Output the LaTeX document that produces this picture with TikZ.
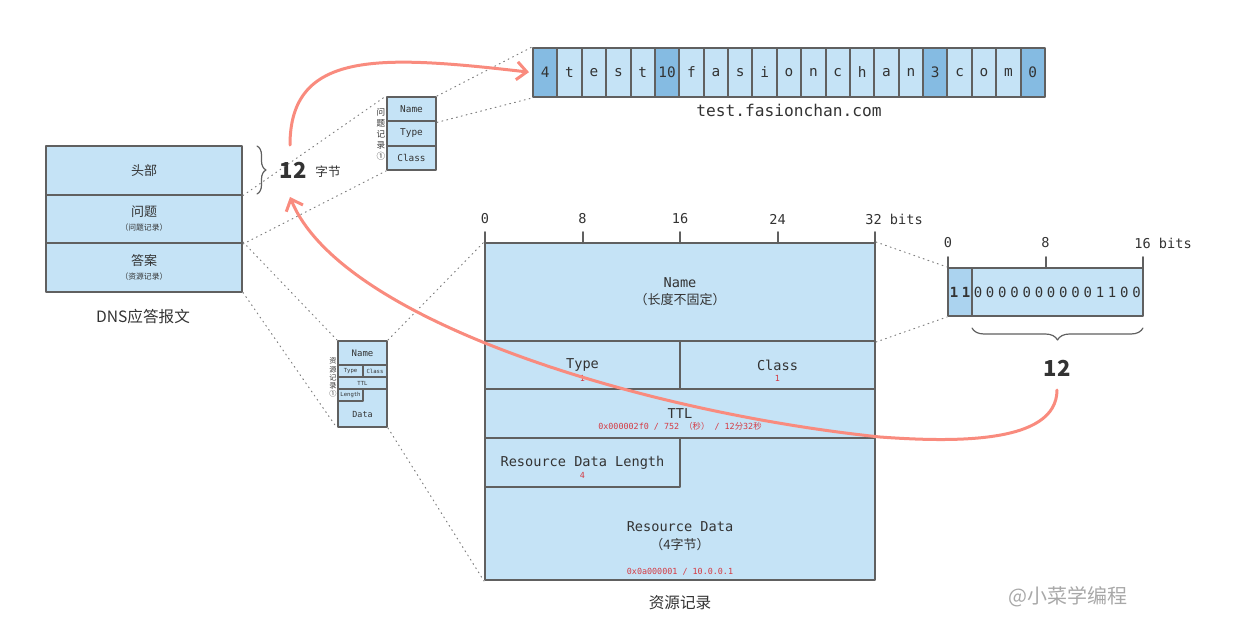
\documentclass[tikz,border=0pt]{standalone}
\usepackage{fontspec}
\setmainfont{Noto Sans CJK SC}
\setmonofont{DejaVu Sans Mono}
\usetikzlibrary{positioning,arrows.meta,decorations.pathreplacing}

\definecolor{cellblue}{HTML}{C5E3F6}
\definecolor{celldark}{HTML}{85BBE2}
\definecolor{cellmid}{HTML}{ABD3EF}
\definecolor{boxgray}{HTML}{606060}
\definecolor{inkgray}{HTML}{333333}
\definecolor{valred}{HTML}{D43A43}
\definecolor{salmon}{HTML}{F98B7E}
\definecolor{markgray}{HTML}{A8A8A8}

\newcommand{\fsz}[2]{\fontsize{#1}{#2}\selectfont}

\tikzset{
  field/.style={draw=boxgray, line width=1pt, fill=cellblue, inner sep=0pt, text=inkgray},
  guide/.style={draw=gray, dotted, line width=0.5pt},
  scaletick/.style={draw=boxgray, line width=1pt},
  bitlabel/.style={inner sep=0pt, text=inkgray, font=\ttfamily\fsz{6.8}{8}},
  redval/.style={inner sep=0pt, text=valred, font=\ttfamily\fsz{4.2}{5}},
  jump/.style={draw=salmon, line width=1.5pt, -{Straight Barb[length=5pt,width=9pt]}},
  bracket/.style={draw=boxgray, line width=0.6pt, decorate},
}

\begin{document}
\begin{tikzpicture}[x=0.5pt, y=-0.5pt, line cap=round, line join=round]
  \useasboundingbox (0,0) rectangle (1260,638);

  % DNS message
  \node[field, minimum width=98pt, minimum height=24.25pt, font=\fsz{6.5}{7}] (head) at (144,170.25) {头部};
  \node[field, minimum width=98pt, minimum height=24.25pt, font=\fsz{6.5}{7}, align=center] (quest) at (144,218.75) {问题\\{\fsz{3.9}{7}（问题记录）}};
  \node[field, minimum width=98pt, minimum height=24.25pt, font=\fsz{6.5}{7}, align=center] (answer) at (144,267.25) {答案\\{\fsz{3.9}{7}（资源记录）}};
  \node[inner sep=0pt, text=inkgray, font=\fsz{7.8}{9}] (dnsmsg) at (143,317) {DNS应答报文};

  % header size
  \draw[bracket, decoration={brace, amplitude=4.5pt}] (257,146) -- (257,194);
  \node[inner sep=0pt, text=inkgray, font=\bfseries\fsz{11}{12}] (bytes12) at (293,170) {12};
  \node[inner sep=0pt, text=inkgray, font=\fsz{6.3}{7}] (bytesunit) at (328,172) {字节};

  % question record
  \node[field, minimum width=24.5pt, minimum height=12.17pt, font=\ttfamily\fsz{4.7}{5}] (qname) at (411.5,109.2) {Name};
  \node[field, minimum width=24.5pt, minimum height=12.17pt, font=\ttfamily\fsz{4.7}{5}] (qtype) at (411.5,133.5) {Type};
  \node[field, minimum width=24.5pt, minimum height=12.17pt, font=\ttfamily\fsz{4.7}{5}] (qclass) at (411.5,157.8) {Class};
  \foreach \ch [count=\k] in {问,题,记,录,①}
    \node[inner sep=0pt, text=inkgray, font=\fsz{4.3}{5}] (qtag\k) at (381,101+11*\k) {\ch};

  % domain name
  \foreach \ch/\tone [count=\i from 0] in {4/celldark,t/cellblue,e/cellblue,s/cellblue,t/cellblue,10/celldark,f/cellblue,a/cellblue,s/cellblue,i/cellblue,o/cellblue,n/cellblue,c/cellblue,h/cellblue,a/cellblue,n/cellblue,3/celldark,c/cellblue,o/cellblue,m/cellblue,0/celldark}
    \node[field, fill=\tone, minimum width=12.19pt, minimum height=24.5pt, font=\ttfamily\fsz{7.2}{8}] (s\i) at (545.19+24.38*\i,72.5) {\ch};
  \node[inner sep=0pt, text=inkgray, font=\ttfamily\fsz{8.1}{9}] (fqdn) at (789,110) {test.fasionchan.com};

  % resource record (small)
  \node[field, minimum width=24.5pt, minimum height=12pt, font=\ttfamily\fsz{4.5}{5}] (rname) at (362.5,353) {Name};
  \node[field, minimum width=24.5pt, minimum height=6pt, font=\ttfamily\fsz{2.8}{3}] (rttl) at (362.5,383) {TTL};
  \node[field, minimum width=12.5pt, minimum height=6pt, font=\ttfamily\fsz{2.8}{3}] (rtype) at (350.5,371) {Type};
  \node[field, minimum width=12pt, minimum height=6pt, font=\ttfamily\fsz{2.8}{3}] (rclass) at (375,371) {Class};
  \node[field, minimum width=24.5pt, minimum height=19pt] (rdata) at (362.5,408) {};
  \node[field, minimum width=12.5pt, minimum height=6pt, font=\ttfamily\fsz{2.8}{3}] (rlen) at (350.5,395) {Length};
  \node[inner sep=0pt, text=inkgray, font=\ttfamily\fsz{4.2}{5}] (rdtext) at (362.5,414) {Data};
  \foreach \ch [count=\k] in {资,源,记,录,①}
    \node[inner sep=0pt, text=inkgray, font=\fsz{3.6}{4}] (rtag\k) at (333,352.7+8.3*\k) {\ch};

  % resource record (large)
  \node[field, minimum width=195pt, minimum height=49pt, font=\ttfamily\fsz{6.8}{8.5}, align=center] (mname) at (680,292) {Name\\{\rmfamily\fsz{6.5}{8.5}（长度不固定）}};
  \node[field, minimum width=97.5pt, minimum height=24pt, font=\ttfamily\fsz{6.8}{8}] (mtype) at (582.5,365) {Type};
  \node[field, minimum width=97.5pt, minimum height=24pt, font=\ttfamily\fsz{6.8}{8}] (mclass) at (777.5,365) {Class};
  \node[field, minimum width=195pt, minimum height=24.5pt, font=\ttfamily\fsz{6.8}{8}] (mttl) at (680,413.5) {TTL};
  \node[field, minimum width=195pt, minimum height=71pt] (mdata) at (680,509) {};
  \node[field, minimum width=97.5pt, minimum height=24.5pt, font=\ttfamily\fsz{6.8}{8}] (mlen) at (582.5,462.5) {Resource Data Length};
  \node[redval] (typeval) at (582.5,378) {1};
  \node[redval] (classval) at (777.5,378) {1};
  \node[redval] (ttlval) at (680,426) {0x000002f0 / 752 {\rmfamily（秒）} / 12{\rmfamily 分}32{\rmfamily 秒}};
  \node[redval] (lenval) at (582.5,475) {4};
  \node[inner sep=0pt, text=inkgray, font=\ttfamily\fsz{6.8}{9}, align=center] (mdtext) at (680,536) {Resource Data\\{\rmfamily\fsz{6.5}{9}（4字节）}};
  \node[redval] (dataval) at (680,572) {0x0a000001 / 10.0.0.1};
  \node[inner sep=0pt, text=inkgray, font=\fsz{7.8}{9}] (rrcaption) at (680,603) {资源记录};

  % bit scale
  \foreach \x/\bit in {485/0, 582.5/8, 680/16, 777.5/24} {
    \draw[scaletick] (\x,232) -- (\x,243);
    \node[bitlabel] (bit\bit) at (\x,219) {\bit};
  }
  \draw[scaletick] (875,232) -- (875,243);
  \node[bitlabel, anchor=west] (bit32) at (865,219) {32 bits};

  % name pointer
  \node[field, fill=cellmid, minimum width=12pt, minimum height=24pt] (ptrflag) at (960,292) {};
  \node[field, minimum width=85.5pt, minimum height=24pt] (ptroff) at (1057.5,292) {};
  \foreach \x/\bit in {948/0, 1045.5/8, 1143/16}
    \draw[scaletick] (\x,257) -- (\x,268);
  \node[bitlabel] (pbit0) at (948,243) {0};
  \node[bitlabel] (pbit8) at (1045.5,243) {8};
  \node[bitlabel, anchor=west] (pbit16) at (1134,243) {16 bits};
  \node[inner sep=0pt, text=inkgray, font=\ttfamily\bfseries\fsz{7}{8}] (flag1) at (954,292) {1};
  \node[inner sep=0pt, text=inkgray, font=\ttfamily\bfseries\fsz{7}{8}] (flag2) at (966,292) {1};
  \foreach \d [count=\i from 0] in {0,0,0,0,0,0,0,0,0,0,1,1,0,0}
    \node[inner sep=0pt, text=inkgray, font=\ttfamily\fsz{7}{8}] (d\i) at (978+12.2*\i,292) {\d};
  \draw[bracket, decoration={brace, amplitude=6pt}] (1143,328) -- (972,328);
  \node[inner sep=0pt, text=inkgray, font=\bfseries\fsz{11}{12}] (offset12) at (1057,368) {12};

  % zoom lines
  \draw[guide] (head.south east) -- (qname.north west);
  \draw[guide] (quest.south east) -- (qclass.south west);
  \draw[guide] (qname.north east) -- (s0.north west);
  \draw[guide] (qname.south east) -- (s0.south west);
  \draw[guide] (answer.north east) -- (rname.north west);
  \draw[guide] (answer.south east) -- (rdata.south west);
  \draw[guide] (rname.north east) -- (mname.north west);
  \draw[guide] (rdata.south east) -- (mdata.south west);
  \draw[guide] (mname.north east) -- (ptrflag.north west);
  \draw[guide] (mname.south east) -- (ptrflag.south west);

  % arrows
  \coordinate (hopA) at (290,145);
  \coordinate (hopB) at (1057,390);
  \coordinate (hopBend) at (290,197);
  \draw[jump, shorten >=1.5pt] (hopA) .. controls (290,50) and (380,55) .. (s0.west);
  \draw[jump] (hopB) .. controls (1057,445) and (950,442) .. (880,437)
    .. controls (640,412) and (340,320) .. (hopBend);

  \node[inner sep=0pt, text=markgray, font=\fsz{10}{12}] (mark) at (1068,597) {@小菜学编程};
\end{tikzpicture}
\end{document}
